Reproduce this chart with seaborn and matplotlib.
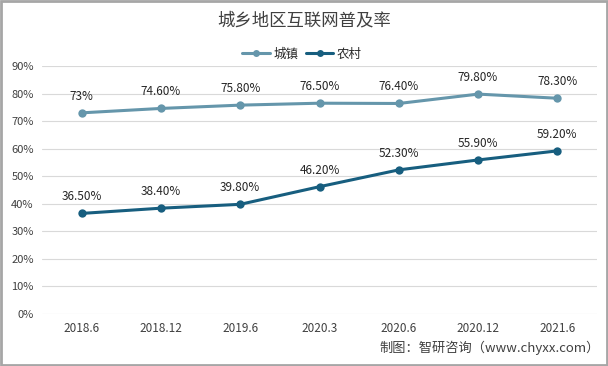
import matplotlib.pyplot as plt
import matplotlib.patches as patches
import pandas as pd
import seaborn as sns

periods = ["2018.6", "2018.12", "2019.6", "2020.3", "2020.6", "2020.12", "2021.6"]
urban = [73.0, 74.6, 75.8, 76.5, 76.4, 79.8, 78.3]
rural = [36.5, 38.4, 39.8, 46.2, 52.3, 55.9, 59.2]
urban_labels = ["73%", "74.60%", "75.80%", "76.50%", "76.40%", "79.80%", "78.30%"]
rural_labels = ["36.50%", "38.40%", "39.80%", "46.20%", "52.30%", "55.90%", "59.20%"]

sns.set_style("white")
plt.rcParams['font.family'] = ['Noto Sans CJK SC', 'DejaVu Sans']

df = pd.DataFrame({
    "period": periods * 2,
    "rate": urban + rural,
    "series": ["城镇"] * len(periods) + ["农村"] * len(periods),
})
df["x"] = list(range(len(periods))) * 2

colors = {"城镇": "#6596AB", "农村": "#175E7F"}

fig = plt.figure(figsize=(6.08, 3.66), dpi=100)
ax = fig.add_axes([42 / 608, 1 - 314 / 366, 555 / 608, 248 / 366])

sns.lineplot(data=df, x="x", y="rate", hue="series", palette=colors,
             marker="o", markersize=6, markeredgewidth=0, linewidth=2.2,
             ax=ax, legend=False)

# data labels
for i in range(len(periods)):
    ax.text(i, urban[i] + 6, urban_labels[i], ha="center", va="center",
            fontsize=8.5, color="#262626")
    ax.text(i, rural[i] + 6, rural_labels[i], ha="center", va="center",
            fontsize=8.5, color="#262626")

ax.set_xlim(-0.5, len(periods) - 0.5)
ax.set_ylim(0, 90)
ax.set_yticks(range(0, 91, 10))
ax.set_yticklabels([f"{v}%" for v in range(0, 91, 10)], fontsize=8, color="#404040")
ax.set_xticks(range(len(periods)))
ax.set_xticklabels(periods, fontsize=8.5, color="#404040")
ax.tick_params(axis="both", length=0, pad=6)
ax.set_xlabel("")
ax.set_ylabel("")
ax.yaxis.grid(True, color="#D9D9D9", linewidth=0.8)
ax.set_axisbelow(True)
for s in ax.spines.values():
    s.set_visible(False)

fig.text(0.5, 1 - 20 / 366, "城乡地区互联网普及率", ha="center", va="center",
         fontsize=12.5, color="#404040")

# legend
handles = [plt.Line2D([], [], color=colors[k], marker="o", markersize=5,
                      markeredgewidth=0, linewidth=2.2) for k in ["城镇", "农村"]]
fig.legend(handles, ["城镇", "农村"], loc="center", ncol=2,
           bbox_to_anchor=(302 / 608, 1 - 54 / 366), frameon=False,
           fontsize=9, handlelength=2.2, columnspacing=0.6, handletextpad=0.3)

fig.text(600 / 608, 1 - 348 / 366, "制图：智研咨询（www.chyxx.com）", ha="right",
         va="center", fontsize=9.5, color="#404040")

fig.patches.append(patches.Rectangle((0.002, 0.003), 0.996, 0.994, transform=fig.transFigure,
                                     fill=False, edgecolor="#A6A6A6", linewidth=2))

fig.savefig("out.png", dpi=100)
